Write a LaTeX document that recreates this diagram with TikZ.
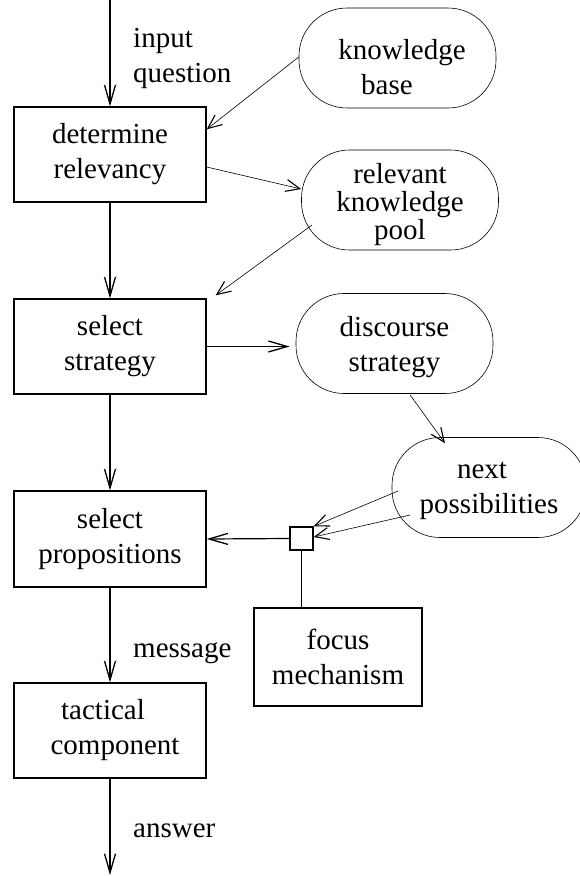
\documentclass[tikz,border=0pt]{standalone}
\usepackage{fontspec}
\setmainfont{Liberation Serif}
\usetikzlibrary{arrows.meta,calc}
\begin{document}
\begin{tikzpicture}[x=1pt,y=-1pt,
  every node/.style={font=\fontsize{29}{35}\selectfont},
  box/.style={draw,line width=1.3pt,minimum width=192pt,minimum height=95pt,inner sep=0pt,align=center},
  pill/.style={draw,line width=0.6pt,rounded corners=48pt,minimum width=197pt,minimum height=100pt,inner sep=0pt},
  ptext/.style={inner sep=0pt,align=center},
  junction/.style={draw,line width=1.2pt,minimum size=23pt,inner sep=0pt},
  flow/.style={line width=1.2pt,-{Straight Barb[length=19pt,width=11pt,line width=1.3pt]}},
  plain/.style={line width=1.2pt},
  thin/.style={line width=0.6pt,-{Straight Barb[length=14pt,width=12pt,line width=1.1pt]}},
  lbl/.style={anchor=base west,inner sep=0pt}]
\useasboundingbox (0,0) rectangle (580,876);
% main column
\node[box] (rel) at (110,154.5) {determine\\relevancy};
\node[box] (strat) at (110,346.5) {select\\strategy};
\node[box,minimum height=96pt] (prop) at (110,539) {select\\propositions};
\node[box] (tact) at (110,730.5) {\hspace*{-14pt}tactical\\\hspace*{10pt}component};
\node[box,minimum width=168pt,minimum height=98pt] (focus) at (338,657) {focus\\mechanism};
\node[junction] (junc) at (301.5,538.5) {};
% pills
\node[pill] (kb) at (397.5,58) {};
\node[ptext] (kbt) at (397.5,67) {\hspace*{9pt}knowledge\\\hspace*{-21pt}base};
\node[pill] (rkp) at (400,200) {};
\node[ptext] (rkpt) at (400,205) {relevant\\[-7pt]knowledge\\[-7pt]pool};
\node[pill] (disc) at (394.5,343.5) {};
\node[ptext] (disct) at (394.5,347) {discourse\\strategy};
\node[pill,minimum width=194pt] (next) at (489,487.5) {};
\node[ptext] (nextt) at (489,491) {\hspace*{-14pt}next\\possibilities};
% labels
\node[lbl] (lin) at (133,47) {input};
\node[lbl] (lq) at (133,82) {question};
\node[lbl] (lmsg) at (133,657) {message};
\node[lbl] (lans) at (133,837) {answer};
% end points
\coordinate (top) at (110,0);
\coordinate (bot) at (110,875);
% flow connectors
\draw[flow] (top) -- (rel.north);
\draw[flow] (rel.south) -- (strat.north);
\draw[flow] (strat.south) -- (prop.north);
\draw[flow] (prop.south) -- (tact.north);
\draw[flow] (tact.south) -- (bot);
\draw[flow] (strat.east) -- ($(strat.east -| disc.west)+(-6,0)$);
\draw[flow] (junc.west) -- (prop.east);
\draw[plain] (junc.south) -- (junc.south |- focus.north);
% thin connectors
\draw[thin] ($(kb.west)+(0,-1)$) -- ($(rel.north east)+(0,23)$);
\draw[thin] ($(rel.east)+(0,12.5)$) -- ($(rkp.west)+(0,-11)$);
\draw[thin] ($(rkp.center)+(-88,25)$) -- ($(strat.north east)+(9,-3)$);
\draw[thin] ($(disc.south)+(15.5,1)$) -- ($(next.north)+(-44,6)$);
\draw[thin] ($(next.center)+(-91,3.5)$) -- (junc.north east);
\draw[thin] ($(next.center)+(-79,27.5)$) -- ($(junc.east)+(0,-1.5)$);
\end{tikzpicture}
\end{document}
